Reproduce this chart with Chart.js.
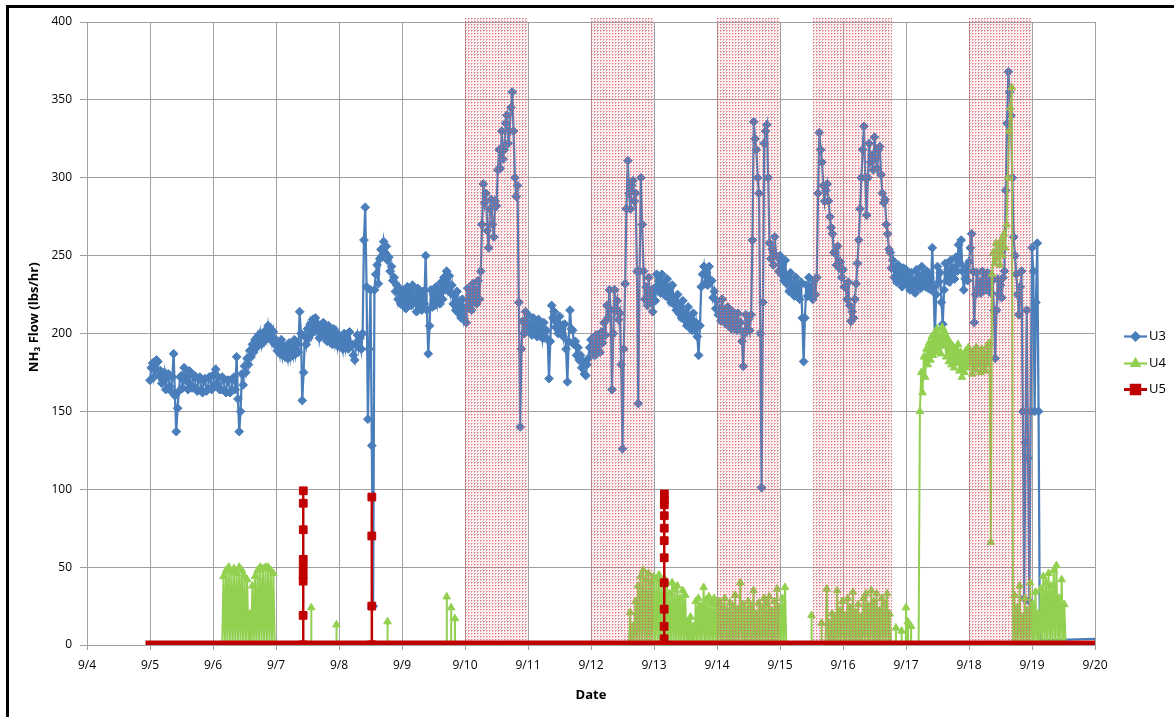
<!DOCTYPE html>
<html>
<head>
<meta charset="utf-8">
<title>NH3 Flow</title>
<script src="https://cdn.jsdelivr.net/npm/chart.js@4.4.1/dist/chart.umd.min.js"></script>
<style>
  html, body { margin: 0; padding: 0; background: #fff; }
  #wrap { position: relative; width: 1174px; height: 717px; overflow: hidden; background: #fff; }
  #frame { position: absolute; left: 6px; top: 5px; width: 1200px; height: 800px;
           border-left: 3px solid #000; border-top: 3px solid #000; pointer-events: none; }
  canvas { position: absolute; left: 0; top: 0; }
</style>
</head>
<body>
<div id="wrap">
  <canvas id="c" width="1174" height="717"></canvas>
  <div id="frame"></div>
</div>
<script>
// ---- Axis labelling ----
const MONTH = 9;
const X_FIRST_DAY = 4;
const X_LAST_DAY = 20;
const Y_MAX = 400;
const Y_STEP = 50;

// ---- U3: 30-minute readings (lbs/hr), one array per day from midnight ----
const U3_DAYS = [5, 6, 7, 8, 9, 10, 11, 12, 13, 14, 15, 16, 17, 18, 19];
const U3_SEP05 = [170,178,181,172,177,183,182,173,176,168,170,175,164,172,174,166,163,172,187,160,137,152,163,172,
                  173,165,178,170,172,164,176,167,165,173,173,164,163,171,172,164,162,170,171,163,164,172,172,164];
const U3_SEP06 = [166,174,177,168,172,164,164,172,171,163,162,170,170,162,163,171,172,164,185,158,137,150,174,167,
                  179,175,184,180,189,185,193,188,196,191,198,193,200,193,199,195,202,197,205,199,203,195,201,193];
const U3_SEP07 = [196,189,193,187,196,186,192,185,189,184,194,185,191,186,196,187,193,188,214,200,157,175,198,193,
                  203,197,206,200,209,201,210,202,206,197,204,199,207,198,203,195,205,196,201,193,203,194,200,192];
const U3_SEP08 = [199,192,196,190,200,191,197,190,201,192,193,186,183,194,199,191,197,190,200,260,281,230,145,190,
                  228,128,25,228,238,244,232,248,254,250,259,252,256,247,249,240,243,234,236,227,231,222,228,219];
const U3_SEP09 = [228,219,225,216,230,219,227,218,231,220,225,214,229,218,224,215,227,219,250,215,187,205,228,217,
                  225,218,230,220,227,219,233,222,236,228,240,230,237,226,231,219,224,215,227,213,219,210,222,210];
const U3_SEP10 = [216,207,229,218,225,215,232,220,228,219,234,222,240,270,296,284,290,266,255,280,286,270,262,285,
                  282,305,318,306,330,312,318,335,340,322,330,345,355,330,300,288,295,220,140,190,208,200,214,203];
const U3_SEP11 = [212,203,206,199,210,201,205,198,209,200,204,197,207,198,202,196,171,195,218,210,214,204,207,200,
                  211,201,205,198,206,190,169,195,215,203,202,193,195,186,191,183,186,178,182,174,173,180,184,191];
const U3_SEP12 = [196,188,193,186,199,190,196,188,201,194,207,199,218,210,228,215,164,200,228,216,221,209,213,180,
                  126,190,232,280,311,290,280,295,298,285,290,240,155,240,300,270,240,222,230,218,236,220,226,214];
const U3_SEP13 = [229,221,238,229,234,226,238,227,232,224,235,223,229,220,231,219,223,215,225,213,218,210,221,209,
                  213,205,217,205,210,202,213,202,207,198,186,205,230,238,243,232,239,231,243,233,234,223,227,216];
const U3_SEP14 = [221,212,216,208,222,211,214,206,217,207,211,203,214,204,209,202,213,203,207,195,179,200,212,203,
                  209,202,212,260,336,325,318,300,290,200,101,220,322,330,334,300,258,248,254,244,262,250,249,240];
const U3_SEP15 = [250,238,244,234,247,232,236,227,239,228,232,224,236,226,230,222,233,210,182,210,231,224,236,226,
                  230,222,234,225,236,290,329,318,310,295,285,292,296,285,275,268,264,252,252,244,256,242,246,236];
const U3_SEP16 = [241,230,230,222,233,218,208,214,210,222,232,245,260,280,300,318,333,300,276,300,322,310,314,305,
                  326,312,306,318,320,302,290,284,286,270,264,254,252,242,247,236,241,233,244,234,238,230,242,233];
const U3_SEP17 = [241,231,236,228,239,229,234,226,241,231,237,229,243,232,238,230,240,229,236,228,255,230,198,225,
                  243,233,239,220,206,228,245,234,241,233,247,236,242,235,249,240,257,245,260,240,228,235,243,234];
const U3_SEP18 = [246,255,264,240,207,225,239,229,233,226,240,230,236,228,239,229,236,226,234,215,184,215,235,225,
                  231,223,236,240,292,335,368,355,340,300,262,250,238,225,212,230,240,150,30,130,215,120,28,150];
const U3_SEP19 = [255,240,150,220,258,150,0,3];
const U3_LAST = [20, 4];
const U3_HALF_HOURLY = [U3_SEP05, U3_SEP06, U3_SEP07, U3_SEP08, U3_SEP09, U3_SEP10, U3_SEP11,
                        U3_SEP12, U3_SEP13, U3_SEP14, U3_SEP15, U3_SEP16, U3_SEP17, U3_SEP18, U3_SEP19];

// ---- U4: 30-minute readings while the unit is injecting ----
const U4_BLOCK_STARTS = [6.146, 12.6, 15.72, 17.2];
const U4_SEP06 = [0,44,0,48,0,50,0,47,0,49,0,46,0,50,0,48,0,44,0,42,0,20,0,38,0,44,0,48,0,50,0,49,0,50,0,50,0,48,0,46,0];
const U4_SEP12 = [
  0,21,0,12,0,28,0,38,0,44,0,48,0,42,0,46,0,40,0,44,0,42,0,45,0,41,0,43,0,40,
  0,33,0,40,0,36,0,38,0,30,0,35,0,32,0,15,0,18,0,12,0,28,0,30,0,25,0,37,0,29,
  0,31,0,27,0,30,0,26,0,28,0,24,0,30,0,22,0,27,0,25,0,32,0,23,0,40,0,26,0,22,
  0,28,0,24,0,35,0,20,0,27,0,23,0,30,0,26,0,31,0,22,0,28,0,36,0,24,0,30,0,37,0];
const U4_SEP15 = [0,36,0,14,0,20,0,18,0,35,0,22,0,28,0,19,0,30,0,24,0,34,0,21,0,26,0,18,0,30,0,33,0,25,0,35,0,28,0,33,0,22,0,30,0,26,0,33,0,20,0];
const U4_SEP17 = [
  0,150,175,162,185,172,190,180,194,183,
  198,186,200,188,203,190,199,187,204,192,
  201,185,197,182,194,180,192,178,190,181,
  193,176,188,172,186,175,189,178,191,180,
  187,174,189,177,191,180,186,175,190,178,
  187,176,192,180,194,66,238,252,245,258,
  248,256,244,260,250,264,255,270,300,330,
  345,358,0,32,0,24,0,38,0,18,
  0,30,0,22,0,40,0,26,0,34,
  0,20,0,36,0,44,0,40,0,46,
  0,38,0,48,0,51,0,30,0,42,
  0,26,0];
const U4_BLOCKS = [U4_SEP06, U4_SEP12, U4_SEP15, U4_SEP17];
// isolated short readings: [day, lbs/hr]
const U4_SPIKES = [[7.56, 24], [7.96, 13], [8.77, 15], [9.71, 31], [9.78, 24], [9.84, 17],
                   [15.50, 19], [15.66, 14], [16.84, 11], [16.93, 9], [17.0, 24], [17.03, 15], [17.08, 12]];
const U4_SPAN = [5, 20];

// ---- U5: idle except three brief injections ----
const U5_SPAN = [5, 20];
const U5_SPIKE_TIMES = [7.43, 8.52, 13.16];
const U5_SPIKE_READINGS = [
  [19, 41, 45, 50, 55, 74, 91, 99],
  [25, 70, 95],
  [4, 12, 23, 40, 56, 67, 75, 83, 90, 93, 97]
];

// ---- Shaded periods (day of month) ----
const SHADE_START = [10, 12, 14, 15.52, 18];
const SHADE_END   = [11, 13, 15, 16.77, 19];

// ---- build point lists ----
function halfHourlyPoints(days, rows) {
  const pts = [];
  rows.forEach((row, d) => row.forEach((v, k) => pts.push({ x: days[d] + k / 48, y: v })));
  return pts;
}
const u3Points = halfHourlyPoints(U3_DAYS, U3_HALF_HOURLY);
u3Points.push({ x: U3_LAST[0], y: U3_LAST[1] });

const u4Points = [{ x: U4_SPAN[0], y: 0 }, { x: U4_SPAN[1], y: 0 }];
U4_BLOCKS.forEach((vals, b) => vals.forEach((v, k) => u4Points.push({ x: U4_BLOCK_STARTS[b] + k / 48, y: v })));
U4_SPIKES.forEach(([t, v]) => {
  u4Points.push({ x: t - 0.002, y: 0 }, { x: t, y: v }, { x: t + 0.002, y: 0 });
});
u4Points.sort((a, b) => a.x - b.x);

const u5Points = [{ x: U5_SPAN[0], y: 0 }];
U5_SPIKE_TIMES.forEach((t, i) => {
  u5Points.push({ x: t, y: 0 });
  U5_SPIKE_READINGS[i].forEach((v, k) => u5Points.push({ x: t + (k + 1) * 0.0004, y: v }));
  u5Points.push({ x: t + (U5_SPIKE_READINGS[i].length + 1) * 0.0004, y: 0 });
});
u5Points.push({ x: U5_SPAN[1], y: 0 });

// ---- dotted pink hatch used for the shaded periods ----
const hatch = (() => {
  const c = document.createElement('canvas');
  c.width = 3; c.height = 3;
  const g = c.getContext('2d');
  g.fillStyle = 'rgba(215,95,105,0.8)';
  g.fillRect(0, 0, 1, 1);
  g.fillStyle = 'rgba(215,95,105,0.5)';
  g.fillRect(1, 0, 1, 1);
  g.fillRect(0, 1, 1, 1);
  g.fillStyle = 'rgba(215,95,105,0.25)';
  g.fillRect(2, 2, 1, 1);
  return g.createPattern(c, 'repeat');
})();

const shadePlugin = {
  id: 'shadedPeriods',
  afterDatasetDraw(chart, args) {
    if (chart.data.datasets[args.index].label !== 'U4') return;
    const { ctx, chartArea: a, scales: { x } } = chart;
    ctx.save();
    ctx.fillStyle = hatch;
    for (let i = 0; i < SHADE_START.length; i++) {
      const x0 = Math.round(x.getPixelForValue(SHADE_START[i]));
      const x1 = Math.round(x.getPixelForValue(SHADE_END[i]));
      ctx.fillRect(x0, a.top - 4, x1 - x0, a.bottom - a.top + 4);
    }
    ctx.restore();
  }
};

const legendPlugin = {
  id: 'sideLegend',
  afterDraw(chart) {
    const { ctx, chartArea: a } = chart;
    const x0 = a.right + 29, x1 = a.right + 52, tx = a.right + 54;
    const mid = (a.top + a.bottom) / 2;
    chart.data.datasets.forEach((ds, i) => {
      const y = Math.round(mid + 2.5 + i * 26.5) + 0.5;
      ctx.save();
      ctx.strokeStyle = ds.borderColor;
      ctx.lineWidth = ds.legendLineWidth;
      ctx.beginPath(); ctx.moveTo(x0, y); ctx.lineTo(x1, y); ctx.stroke();
      ctx.fillStyle = ds.pointBackgroundColor;
      ctx.strokeStyle = ds.pointBorderColor;
      Chart.helpers.drawPoint(ctx, { pointStyle: ds.pointStyle, radius: ds.legendRadius, rotation: 0, borderWidth: 1 }, (x0 + x1) / 2, y);
      ctx.fillStyle = '#000';
      ctx.font = '13px "Open Sans", sans-serif';
      ctx.textBaseline = 'middle';
      ctx.textAlign = 'left';
      ctx.fillText(ds.label, tx, y);
      ctx.restore();
    });
  }
};

const BLUE = '#4a7ebb', GREEN = '#92d050', RED = '#c00000';
const tickFont = { family: '"Open Sans", sans-serif', size: 12 };
const titleFont = { family: '"Open Sans", sans-serif', size: 13, weight: 'bold' };
const GRID = '#a0a0a0';

new Chart(document.getElementById('c'), {
  type: 'line',
  data: {
    datasets: [
      {
        label: 'U3', data: u3Points, order: 3,
        borderColor: BLUE, borderWidth: 2.25, pointStyle: 'rectRot',
        pointBackgroundColor: BLUE, pointBorderColor: BLUE, pointBorderWidth: 1,
        pointRadius: c => (c.raw && c.raw.y < 6) ? 0 : 4.4,
        legendRadius: 4, legendLineWidth: 2.25, tension: 0
      },
      {
        label: 'U4', data: u4Points, order: 2,
        borderColor: GREEN, borderWidth: 2, pointStyle: 'triangle',
        pointBackgroundColor: GREEN, pointBorderColor: GREEN, pointBorderWidth: 1,
        pointRadius: 4.4, legendRadius: 4.5, legendLineWidth: 2.25, tension: 0
      },
      {
        label: 'U5', data: u5Points, order: 1,
        borderColor: RED, borderWidth: 2.5, pointStyle: 'rect',
        pointBackgroundColor: RED, pointBorderColor: RED, pointBorderWidth: 1,
        pointRadius: c => (c.raw && c.raw.y > 0) ? 5.5 : 0,
        legendRadius: 6, legendLineWidth: 3, tension: 0,
        segment: {
          borderWidth: c => (c.p0.parsed.y === 0 && c.p1.parsed.y === 0) ? 9 : 2.5,
          borderCapStyle: c => (c.p0.parsed.y === 0 && c.p1.parsed.y === 0) ? 'square' : 'butt'
        }
      }
    ]
  },
  options: {
    responsive: false,
    animation: false,
    devicePixelRatio: 1,
    events: [],
    layout: { padding: { left: 0, top: 22, right: 79, bottom: 0 } },
    plugins: { legend: { display: false }, tooltip: { enabled: false } },
    scales: {
      x: {
        type: 'linear', min: X_FIRST_DAY, max: X_LAST_DAY,
        ticks: { stepSize: 1, autoSkip: false, maxRotation: 0, font: tickFont, color: '#000', padding: 8,
                 callback: v => MONTH + '/' + v },
        grid: { color: GRID, lineWidth: 1, tickLength: 5 },
        border: { color: GRID, width: 1 },
        title: { display: true, text: 'Date', font: titleFont, color: '#000', padding: { top: 0, bottom: 14 } },
        afterFit: s => { s.height = 72; }
      },
      y: {
        min: 0, max: Y_MAX,
        ticks: { stepSize: Y_STEP, font: tickFont, color: '#000', padding: 8 },
        grid: { color: GRID, lineWidth: 1, tickLength: 7 },
        border: { color: GRID, width: 1 },
        // leading en-spaces lift the rotated title slightly above the axis midpoint
        title: { display: true, text: '\u2002\u2002\u2002\u2002\u2002NH\u2083 Flow (lbs/hr)', font: titleFont, color: '#000', padding: { top: 26, bottom: 0 } },
        afterFit: s => { s.width = 87; }
      }
    }
  },
  plugins: [shadePlugin, legendPlugin]
});
</script>
</body>
</html>
